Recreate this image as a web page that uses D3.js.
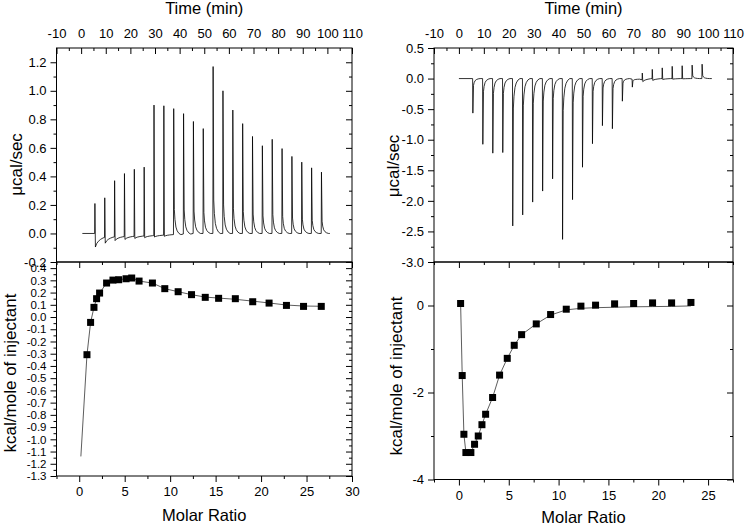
<!DOCTYPE html>
<html><head><meta charset="utf-8">
<script src="https://cdn.jsdelivr.net/npm/d3@7"></script>
<style>
body{margin:0;background:#fff}
svg{display:block}
text{font-family:"Liberation Sans",Arial,sans-serif;fill:#000}
</style>
</head><body>
<svg id="c" width="745" height="526"></svg>
<script>
// ---------------- DATA ----------------
// Time axis ticks (min)
const timeTicks = [-10,0,10,20,30,40,50,60,70,80,90,100,110];
const timeMinor = [-5,5,15,25,35,45,55,65,75,85,95,105];

// Left panel: raw thermogram (injection times, peak heights, post-spike undershoot, pre-injection baseline)
const leftInjTimes = [5.5,9.5,13.5,17.5,21.5,25.5,29.5,33.5,37.5,41.5,45.5,49.5,53.5,57.5,61.5,65.5,69.5,73.5,77.5,81.5,85.5,89.5,93.5,97.5];
const leftPeaks    = [0.21,0.25,0.37,0.42,0.45,0.465,0.90,0.895,0.875,0.84,0.785,0.735,1.17,1.0,0.865,0.77,0.68,0.615,0.66,0.595,0.54,0.50,0.46,0.43];
const leftDips     = [-0.095,-0.068,-0.05,-0.042,-0.035,-0.03,-0.025,-0.02,0,0,0,0,0,0,0,0,0,0,0,0,0,0,0,0];
const leftBase     = [0,-0.028,-0.024,-0.022,-0.02,-0.018,-0.015,-0.012,-0.008,-0.004,0,0,0,0,0,0,0,0,0,0,0,0,0,0];
const leftTraceRange = [0.5, 101];

// Right panel: raw thermogram
const rightInjTimes = [5.5,9.5,13.5,17.5,21.5,25.5,29.5,33.5,37.5,41.5,45.5,49.5,53.5,57.5,61.5,65.5,69.5,73.5,77.5,81.5,85.5,89.5,93.5,97.5];
const rightPeaks    = [-0.565,-1.075,-1.22,-1.21,-2.41,-2.23,-2.02,-1.84,-1.64,-2.63,-1.98,-1.45,-1.065,-0.77,-0.82,-0.37,-0.14,0.09,0.15,0.175,0.2,0.21,0.22,0.235];
const rightDips     = [0,0,0,0,0,0,0,0,0,0,0,0,0,0,0,0,0,-0.05,-0.03,-0.015,-0.01,-0.005,0,0];
const rightBase     = [0,0,0,0,0,0,0,0,0,0,0,0,0,0,0,0,-0.01,-0.02,0,0,0,0,0,0];
const rightTraceRange = [0, 101.5];

// Peak tail shape (time offset in min, fraction of peak height)
const tailOffsets = [0.35,0.6,1.0,1.5,2.2,3.0];
const tailFracs   = [0.2,0.12,0.06,0.03,0.01,0];
const dipOffsets  = [0.3,0.8,1.5,2.4,3.4];
const dipFracs    = [1,0.65,0.4,0.2,0.05];

// Left panel: integrated heats
const leftRatio = [0.85,1.25,1.62,1.91,2.24,3.01,3.71,4.34,5.15,5.77,6.58,8.05,9.41,10.88,12.35,13.86,15.33,17.17,19.08,20.88,22.79,24.67,26.62];
const leftHeat  = [-0.308,-0.044,0.079,0.150,0.196,0.278,0.302,0.305,0.313,0.319,0.294,0.278,0.232,0.207,0.183,0.161,0.153,0.150,0.125,0.114,0.095,0.087,0.087];
const leftFitX  = [0.18,0.85,1.25,1.62,1.91,2.24,3.01,3.71,4.34,5.15,5.77,6.58,8.05,9.41,10.88,12.35,13.86,15.33,17.17,19.08,20.88,22.79,24.67,26.62];
const leftFitY  = [-1.14,-0.31,-0.044,0.079,0.15,0.196,0.278,0.302,0.305,0.313,0.319,0.294,0.278,0.232,0.207,0.183,0.163,0.155,0.145,0.13,0.115,0.098,0.09,0.088];

// Right panel: integrated heats
const rightRatio = [0.17,0.33,0.50,0.70,1.20,1.57,1.94,2.31,2.68,3.38,4.08,4.85,5.55,6.29,7.76,9.20,10.77,12.24,13.71,15.62,17.53,19.43,21.34,23.28];
const rightHeat  = [0.046,-1.61,-2.96,-3.38,-3.38,-3.19,-3.0,-2.74,-2.5,-2.115,-1.6,-1.215,-0.915,-0.67,-0.423,-0.208,-0.085,-0.015,0.008,0.038,0.046,0.06,0.06,0.07];
const rightFitX  = [0.17,0.33,0.50,0.70,1.20,1.57,1.94,2.31,2.68,3.38,4.08,4.85,5.55,6.29,7.76,9.20,10.77,12.24,13.71,15.62,17.53,19.43,21.34,23.28];
const rightFitY  = [0.046,-1.61,-2.96,-3.38,-3.38,-3.19,-3.0,-2.74,-2.5,-2.115,-1.6,-1.215,-0.915,-0.67,-0.423,-0.22,-0.1,-0.065,-0.05,-0.04,-0.03,-0.025,-0.02,-0.01];

// Axis ticks
const ltY = [-0.2,0,0.2,0.4,0.6,0.8,1.0,1.2];
const ltYMinor = [-0.1,0.1,0.3,0.5,0.7,0.9,1.1];
const lbY = [-1.3,-1.2,-1.1,-1.0,-0.9,-0.8,-0.7,-0.6,-0.5,-0.4,-0.3,-0.2,-0.1,0,0.1,0.2,0.3,0.4];
const lbYMinor = [-1.25,-1.15,-1.05,-0.95,-0.85,-0.75,-0.65,-0.55,-0.45,-0.35,-0.25,-0.15,-0.05,0.05,0.15,0.25,0.35];
const lbX = [0,5,10,15,20,25,30];
const lbXMinor = [-2.5,2.5,7.5,12.5,17.5,22.5,27.5];
const rtY = [0.5,0,-0.5,-1.0,-1.5,-2.0,-2.5,-3.0];
const rtYMinor = [0.25,-0.25,-0.75,-1.25,-1.75,-2.25,-2.75];
const rbY = [0,-2,-4];
const rbYMinor = [1,-1,-3];
const rbX = [0,5,10,15,20,25];
const rbXMinor = [-2.5,2.5,7.5,12.5,17.5,22.5,27.5];

// ---------------- DRAW ----------------
const svg = d3.select("#c");
svg.append("rect").attr("width",745).attr("height",526).attr("fill","#fff");
const FONT = '"Liberation Sans", Arial, sans-serif';

function buildTrace(times, peaks, dips, bases, range){
  const pts = [[range[0], bases[0]]];
  const n = times.length;
  for(let i=0;i<n;i++){
    const t0 = times[i], b = bases[i], h = peaks[i], d = dips[i];
    const bn = i+1<n ? bases[i+1] : 0;
    pts.push([t0, b]);
    pts.push([t0+0.1, h]);
    if(d !== 0){
      dipOffsets.forEach((o,k)=>pts.push([t0+o, bn + (d-bn)*dipFracs[k]]));
    } else {
      tailOffsets.forEach((o,k)=>pts.push([t0+o, b + (h-b)*tailFracs[k]]));
    }
  }
  pts.push([range[1], 0]);
  return pts;
}

function fmt1(d){ return Math.abs(d)<1e-9 ? "0.0" : d.toFixed(1); }

function axis(g, gen, scale, values, size, pad, fmt, fs){
  const a = gen(scale).tickValues(values).tickSize(size).tickPadding(pad)
    .tickFormat(fmt || (()=>""));
  g.call(a);
  g.select(".domain").remove();
  g.attr("font-size", fs||13).attr("font-family", FONT);
  g.selectAll(".tick line").attr("stroke","#000");
  g.selectAll(".tick text").attr("fill","#000");
}

function panel(cfg){
  const {x0,x1,yTop,yMid,yBot} = cfg;
  const xT = d3.scaleLinear().domain([-10,110]).range([x0,x1]);
  const yT = d3.scaleLinear().domain(cfg.yTDomain).range([yMid,yTop]);
  const xB = d3.scaleLinear().domain(cfg.xBDomain).range([x0,x1]);
  const yB = d3.scaleLinear().domain(cfg.yBDomain).range([yBot,yMid]);

  // thermogram
  const trace = buildTrace(cfg.times, cfg.peaks, cfg.dips, cfg.bases, cfg.range);
  const line = d3.line().x(d=>xT(d[0])).y(d=>yT(d[1]));
  svg.append("path").attr("d", line(trace)).attr("fill","none")
    .attr("stroke","#000").attr("stroke-width",0.8).attr("stroke-linejoin","round");

  // fit line
  const fit = d3.line().x((d,i)=>xB(cfg.fitX[i])).y(d=>yB(d));
  svg.append("path").attr("d", fit(cfg.fitY)).attr("fill","none")
    .attr("stroke","#333").attr("stroke-width",0.8);

  // squares
  const s = 7;
  svg.append("g").selectAll("rect").data(cfg.heat).join("rect")
    .attr("x",(d,i)=>xB(cfg.ratio[i])-s/2).attr("y",d=>yB(d)-s/2)
    .attr("width",s).attr("height",s).attr("fill","#000");

  // frames
  svg.append("rect").attr("x",x0).attr("y",yTop).attr("width",x1-x0).attr("height",yMid-yTop)
    .attr("fill","none").attr("stroke","#000").attr("stroke-width",1);
  svg.append("rect").attr("x",x0).attr("y",yMid).attr("width",x1-x0).attr("height",yBot-yMid)
    .attr("fill","none").attr("stroke","#000").attr("stroke-width",1);

  // top plot axes
  axis(svg.append("g").attr("transform",`translate(0,${yTop})`), d3.axisTop, xT, timeTicks, -6, 10, d=>d);
  axis(svg.append("g").attr("transform",`translate(0,${yTop})`), d3.axisTop, xT, timeMinor, -3, 10);
  axis(svg.append("g").attr("transform",`translate(${x0},0)`), d3.axisLeft, yT, cfg.yTTicks, 6, 4, fmt1);
  axis(svg.append("g").attr("transform",`translate(${x0},0)`), d3.axisLeft, yT, cfg.yTMinor, 3, 4);
  axis(svg.append("g").attr("transform",`translate(${x1},0)`), d3.axisRight, yT, cfg.yTTicks, -6, 4);
  axis(svg.append("g").attr("transform",`translate(${x1},0)`), d3.axisRight, yT, cfg.yTMinor, -3, 4);

  // bottom plot axes
  axis(svg.append("g").attr("transform",`translate(0,${yMid})`), d3.axisTop, xB, cfg.xBTicks, -6, 4);
  axis(svg.append("g").attr("transform",`translate(0,${yMid})`), d3.axisTop, xB, cfg.xBMinor, -3, 4);
  axis(svg.append("g").attr("transform",`translate(0,${yBot})`), d3.axisBottom, xB, cfg.xBTicks, 6, 5, d=>d);
  axis(svg.append("g").attr("transform",`translate(0,${yBot})`), d3.axisBottom, xB, cfg.xBMinor, 3, 5);
  axis(svg.append("g").attr("transform",`translate(${x0},0)`), d3.axisLeft, yB, cfg.yBTicks, 6, 4, cfg.yBFmt, cfg.yBFont);
  axis(svg.append("g").attr("transform",`translate(${x0},0)`), d3.axisLeft, yB, cfg.yBMinor, 3, 4);
  axis(svg.append("g").attr("transform",`translate(${x1},0)`), d3.axisRight, yB, cfg.yBTicks, -6, 4);
  axis(svg.append("g").attr("transform",`translate(${x1},0)`), d3.axisRight, yB, cfg.yBMinor, -3, 4);

  // titles
  const cx = (x0+x1)/2;
  svg.append("text").attr("x",cx).attr("y",14).attr("text-anchor","middle")
    .attr("font-size",16.5).text("Time (min)");
  svg.append("text").attr("x",cx).attr("y",cfg.molarY).attr("text-anchor","middle")
    .attr("font-size",16.5).text("Molar Ratio");
  svg.append("text").attr("transform",`translate(${cfg.t1x},${cfg.t1y}) rotate(-90)`)
    .attr("text-anchor","middle").attr("font-size",17).text("μcal/sec");
  svg.append("text").attr("transform",`translate(${cfg.t2x},${cfg.t2y}) rotate(-90)`)
    .attr("text-anchor","middle").attr("font-size",17).text("kcal/mole of injectant");
}

panel({
  x0:56.5, x1:352, yTop:48, yMid:262, yBot:476,
  yTDomain:[-0.2,1.3], xBDomain:[-2.5,30], yBDomain:[-1.3,0.45],
  times:leftInjTimes, peaks:leftPeaks, dips:leftDips, bases:leftBase, range:leftTraceRange,
  fitX:leftFitX, fitY:leftFitY, ratio:leftRatio, heat:leftHeat,
  yTTicks:ltY, yTMinor:ltYMinor, xBTicks:lbX, xBMinor:lbXMinor,
  yBTicks:lbY, yBMinor:lbYMinor, yBFmt:fmt1, yBFont:11.5,
  molarY:521, t1x:21.5, t1y:164.5, t2x:15.5, t2y:373
});

panel({
  x0:434, x1:733, yTop:48, yMid:262, yBot:479.5,
  yTDomain:[-3,0.5], xBDomain:[-2.5,27.5], yBDomain:[-4,1],
  times:rightInjTimes, peaks:rightPeaks, dips:rightDips, bases:rightBase, range:rightTraceRange,
  fitX:rightFitX, fitY:rightFitY, ratio:rightRatio, heat:rightHeat,
  yTTicks:rtY, yTMinor:rtYMinor, xBTicks:rbX, xBMinor:rbXMinor,
  yBTicks:rbY, yBMinor:rbYMinor, yBFmt:d=>d, yBFont:13,
  molarY:523, t1x:399, t1y:166, t2x:402, t2y:376
});
</script>
</body></html>
